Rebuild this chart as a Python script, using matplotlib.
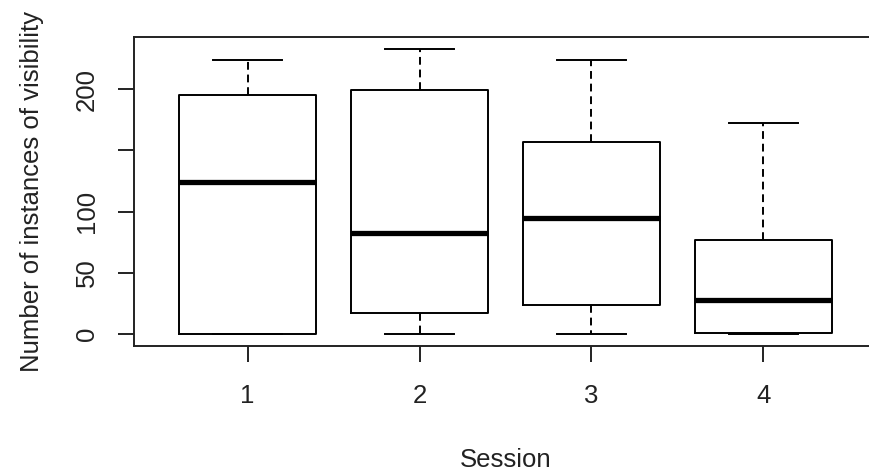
import numpy as np
import matplotlib
matplotlib.use("Agg")
import matplotlib.pyplot as plt

sessions = ["1", "2", "3", "4"]
whislo = [0, 0, 0, 0]
q1 = [0, 17, 24, 1]
med = [124.5, 82.5, 94.5, 28]
q3 = [195, 199, 157, 77]
whishi = [224, 233, 224, 172]
yticks = [0, 50, 100, 150, 200]
ytick_labels = ["0", "50", "100", "", "200"]

plt.rcParams["font.family"] = ["Liberation Sans", "DejaVu Sans"]
fs = 18.5
lw = 1.4

fig = plt.figure(figsize=(8.69, 4.74), dpi=100)
ax = fig.add_axes([0.1542, 0.2707, 0.855, 0.6506])

stats = [dict(label=s, whislo=a, q1=b, med=c, q3=d, whishi=e)
         for s, a, b, c, d, e in zip(sessions, whislo, q1, med, q3, whishi)]
pos = np.arange(1, len(sessions) + 1)
ax.bxp(stats, positions=pos, widths=0.8, capwidths=0.4, showfliers=False,
       boxprops=dict(color="black", linewidth=lw),
       medianprops=dict(color="black", linewidth=3.8, solid_capstyle="butt"),
       whiskerprops=dict(color="black", linewidth=lw, linestyle=(0, (4, 2.5))),
       capprops=dict(color="black", linewidth=lw))

# R style axis extents: 4% padding
ymin, ymax = min(whislo), max(whishi)
pad = 0.04 * (ymax - ymin)
ax.set_ylim(ymin - pad, ymax + pad)
ax.set_xlim(0.5 - 0.16, len(sessions) + 0.5 + 0.16)

ax.set_xticks(pos)
ax.set_xticklabels(sessions)
ax.set_yticks(yticks)
ax.set_yticklabels(ytick_labels, rotation=90, va="center")
ax.tick_params(axis="x", length=11.5, width=lw, pad=16, labelsize=fs, colors="#222222")
ax.tick_params(axis="y", length=11.5, width=lw, pad=14, labelsize=fs, colors="#222222")
for sp in ax.spines.values():
    sp.set_linewidth(lw)
    sp.set_color("#222222")

ax.set_xlabel("Session", fontsize=fs, color="#222222", labelpad=29)
ax.set_ylabel("Number of instances of visibility", fontsize=fs, color="#222222", labelpad=22)

fig.savefig("out.png", dpi=100)
